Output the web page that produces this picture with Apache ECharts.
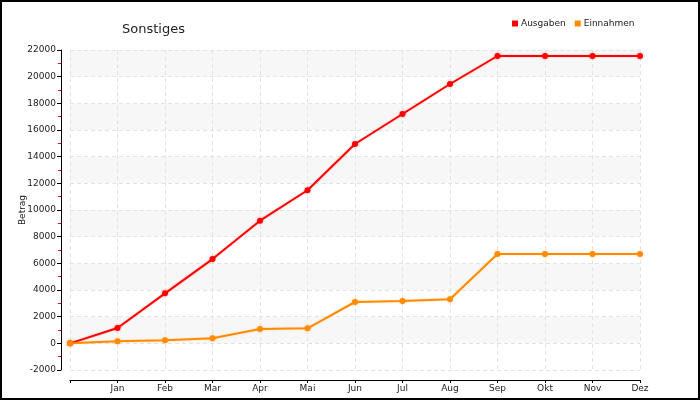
<!DOCTYPE html>
<html>
<head>
<meta charset="utf-8">
<script src="https://cdn.jsdelivr.net/npm/echarts@6/dist/echarts.min.js"></script>
<style>
html,body{margin:0;padding:0;background:#fff;}
#c{width:700px;height:400px;}
</style>
</head>
<body>
<div id="c"></div>
<script>
var categories = ['', 'Jan', 'Feb', 'Mar', 'Apr', 'Mai', 'Jun', 'Jul', 'Aug', 'Sep', 'Okt', 'Nov', 'Dez'];
var ausgaben = [0, 1150, 3750, 6320, 9200, 11480, 14950, 17200, 19450, 21550, 21550, 21550, 21550];
var einnahmen = [0, 150, 230, 380, 1070, 1130, 3100, 3170, 3300, 6700, 6700, 6700, 6700];

var FONT = 'DejaVu Sans';
var chart = echarts.init(document.getElementById('c'), null, {renderer: 'canvas'});
chart.setOption({
  animation: false,
  backgroundColor: '#fff',
  textStyle: {fontFamily: FONT},
  title: {
    text: 'Sonstiges',
    left: 117, top: 18,
    textStyle: {fontFamily: FONT, fontSize: 13, fontWeight: 'normal', color: '#222'}
  },
  legend: {
    left: 507, top: 14,
    itemWidth: 6, itemHeight: 6, itemGap: 9,
    icon: 'rect',
    textStyle: {fontFamily: FONT, fontSize: 9, color: '#222', padding: [0, 0, 0, -2]},
    data: ['Ausgaben', 'Einnahmen']
  },
  grid: {left: 70, right: 60, top: 50, bottom: 30, containLabel: false, outerBoundsMode: 'none'},
  xAxis: {
    type: 'category',
    data: categories,
    boundaryGap: false,
    offset: 10,
    axisLine: {onZero: false, lineStyle: {color: '#000', width: 1}},
    axisTick: {show: true, length: 3, interval: 0, lineStyle: {color: '#000'}},
    axisLabel: {fontFamily: FONT, fontSize: 9, color: '#222', margin: 4, interval: 0},
    splitLine: {show: true, interval: 0, lineStyle: {color: '#e4e4e4', type: [4, 3], width: 1}}
  },
  yAxis: {
    type: 'value',
    min: -2000, max: 22000, interval: 2000,
    offset: 9,
    name: 'Betrag',
    nameLocation: 'middle',
    nameRotate: 90,
    nameGap: 34,
    nameMoveOverlap: false,
    nameTextStyle: {fontFamily: FONT, fontSize: 9, color: '#222'},
    axisLine: {show: true, onZero: false, lineStyle: {color: '#000', width: 1}},
    axisTick: {show: true, length: 4, lineStyle: {color: '#000'}},
    minorTick: {show: true, splitNumber: 2, length: 3, lineStyle: {color: '#ff0000'}},
    axisLabel: {fontFamily: FONT, fontSize: 9, color: '#222', margin: 5, formatter: function (v) { return String(v); }},
    splitLine: {show: true, lineStyle: {color: '#e4e4e4', type: [4, 3], width: 1}},
    splitArea: {show: true, areaStyle: {color: ['#ffffff', '#f7f7f7']}}
  },
  series: [
    {
      name: 'Ausgaben', type: 'line', data: ausgaben,
      symbol: 'circle', symbolSize: 6,
      itemStyle: {color: '#ff0000', shadowColor: 'rgba(255,0,0,0.35)', shadowBlur: 3},
      lineStyle: {color: '#ff0000', width: 2, shadowColor: 'rgba(255,0,0,0.25)', shadowBlur: 2}
    },
    {
      name: 'Einnahmen', type: 'line', data: einnahmen,
      symbol: 'circle', symbolSize: 6,
      itemStyle: {color: '#ff8c00', shadowColor: 'rgba(255,140,0,0.35)', shadowBlur: 3},
      lineStyle: {color: '#ff8c00', width: 2, shadowColor: 'rgba(255,140,0,0.25)', shadowBlur: 2}
    }
  ],
  graphic: [{
    type: 'rect', silent: true, z: 100,
    shape: {x: 1, y: 1, width: 698, height: 398},
    style: {fill: 'none', stroke: '#000', lineWidth: 2}
  }]
});
</script>
</body>
</html>
